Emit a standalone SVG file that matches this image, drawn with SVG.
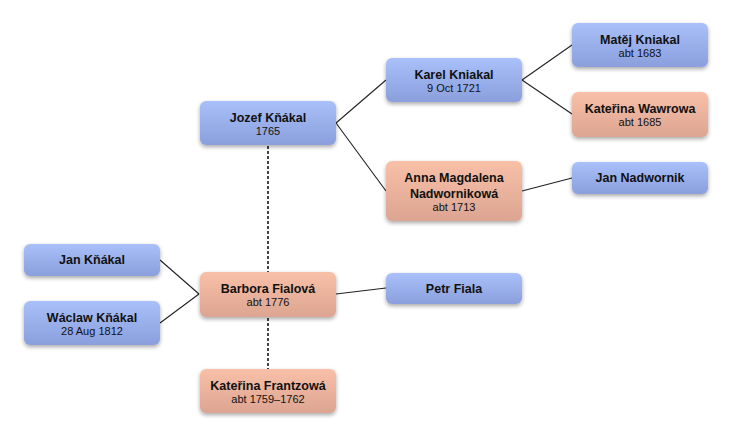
<svg xmlns="http://www.w3.org/2000/svg" width="732" height="438" viewBox="0 0 732 438">
<defs>
<linearGradient id="gb" x1="0" y1="0" x2="0" y2="1">
<stop offset="0" stop-color="#a9c0fa"/>
<stop offset="1" stop-color="#8a9fdc"/>
</linearGradient>
<linearGradient id="gp" x1="0" y1="0" x2="0" y2="1">
<stop offset="0" stop-color="#f9c0a8"/>
<stop offset="1" stop-color="#dca591"/>
</linearGradient>
<filter id="sh" x="-20%" y="-30%" width="140%" height="170%">
<feGaussianBlur in="SourceAlpha" stdDeviation="2"/>
<feOffset dx="0" dy="2" result="b"/>
<feComponentTransfer><feFuncA type="linear" slope="0.35"/></feComponentTransfer>
<feMerge><feMergeNode/><feMergeNode in="SourceGraphic"/></feMerge>
</filter>
</defs>
<style>
.b{fill:url(#gb);filter:url(#sh)}
.p{fill:url(#gp);filter:url(#sh)}
text{font-family:"Liberation Sans",Arial,sans-serif;text-anchor:middle;fill:#111}
.n{font-size:12.5px;font-weight:bold}
.d{font-size:11px}
.c{stroke:#222;stroke-width:1.1;fill:none}
.s{stroke:#444;stroke-width:2;stroke-dasharray:3,2;fill:none}
</style>
<rect width="732" height="438" fill="#fff"/>
<g id="connectors">
<path class="c" d="M336,123 L386,80 M336,123 L386,191"/>
<path class="c" d="M522,80 L572,45 M522,80 L572,114"/>
<path class="c" d="M522,191 L572,178"/>
<path class="c" d="M160,260 L199,294 M160,323 L199,294"/>
<path class="c" d="M336,294 L386,288"/>
<path class="s" d="M268,146 L268,272 M268,318 L268,369"/>
</g>
<g id="jozef"><rect class="b" x="200" y="101" width="136" height="44" rx="6"/><text class="n" x="268" y="122">Jozef Kňákal</text><text class="d" x="268" y="135">1765</text></g>
<g id="karel"><rect class="b" x="386" y="58" width="136" height="44" rx="6"/><text class="n" x="454" y="79">Karel Kniakal</text><text class="d" x="454" y="92">9 Oct 1721</text></g>
<g id="anna"><rect class="p" x="386" y="161" width="136" height="60" rx="6"/><text class="n" x="454" y="182">Anna Magdalena</text><text class="n" x="454" y="198">Nadwornikowá</text><text class="d" x="454" y="211">abt 1713</text></g>
<g id="matej"><rect class="b" x="572" y="23" width="136" height="44" rx="6"/><text class="n" x="640" y="44">Matěj Kniakal</text><text class="d" x="640" y="57">abt 1683</text></g>
<g id="wawrowa"><rect class="p" x="572" y="92" width="136" height="45" rx="6"/><text class="n" x="640" y="113">Kateřina Wawrowa</text><text class="d" x="640" y="126">abt 1685</text></g>
<g id="nadwornik"><rect class="b" x="572" y="162" width="136" height="32" rx="6"/><text class="n" x="640" y="182">Jan Nadwornik</text></g>
<g id="jan"><rect class="b" x="24" y="244" width="136" height="32" rx="6"/><text class="n" x="92" y="264">Jan Kňákal</text></g>
<g id="waclaw"><rect class="b" x="24" y="301" width="136" height="44" rx="6"/><text class="n" x="92" y="322">Wáclaw Kňákal</text><text class="d" x="92" y="335">28 Aug 1812</text></g>
<g id="barbora"><rect class="p" x="200" y="272" width="136" height="45" rx="6"/><text class="n" x="268" y="293">Barbora Fialová</text><text class="d" x="268" y="306">abt 1776</text></g>
<g id="petr"><rect class="b" x="386" y="273" width="136" height="31" rx="6"/><text class="n" x="454" y="293">Petr Fiala</text></g>
<g id="frantzowa"><rect class="p" x="200" y="369" width="136" height="44" rx="6"/><text class="n" x="268" y="390">Kateřina Frantzowá</text><text class="d" x="268" y="403">abt 1759–1762</text></g>
</svg>
